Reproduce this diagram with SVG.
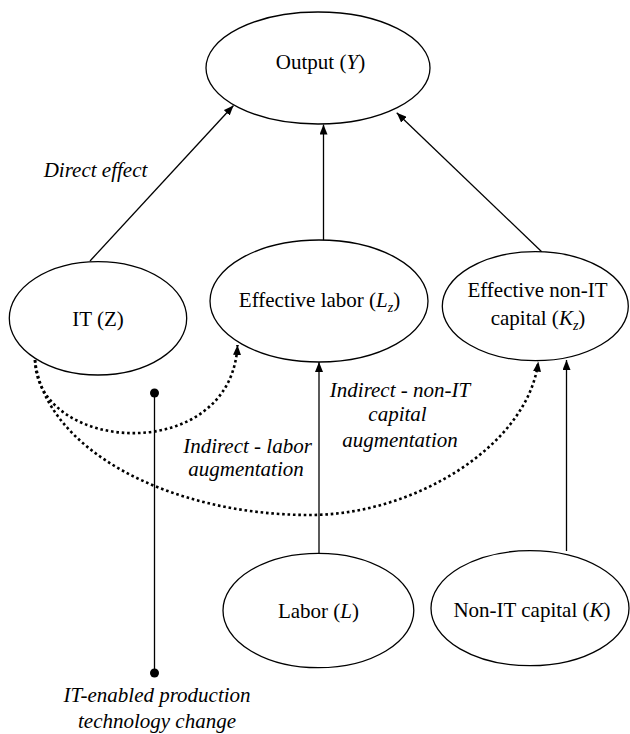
<svg xmlns="http://www.w3.org/2000/svg" width="630" height="734" viewBox="0 0 630 734">
<style>
  .node { fill: #fff; stroke: #000; stroke-width: 1.3; }
  .t { font-family: 'Liberation Serif', 'Times New Roman', serif; font-size: 21px; fill: #000; text-anchor: middle; }
  .it { font-style: italic; }
  .sub { font-style: italic; font-size: 14px; }
  .edge { fill: none; stroke: #000; stroke-width: 1.3; }
  .dot { fill: none; stroke: #000; stroke-width: 2.6; stroke-dasharray: 2.6 2.8; }
</style>
<defs>
  <marker id="arr" markerUnits="userSpaceOnUse" markerWidth="10" markerHeight="8" refX="10" refY="4" orient="auto" viewBox="0 0 10 8">
    <path d="M0,0 L10,4 L0,8 z" fill="#000"/>
  </marker>
</defs>
<rect width="630" height="734" fill="#fff"/>

<g id="connectors">
  <line class="edge" x1="90" y1="261" x2="233.5" y2="105.5" marker-end="url(#arr)"/>
  <line class="edge" x1="323.5" y1="241" x2="323.5" y2="124.5" marker-end="url(#arr)"/>
  <line class="edge" x1="541.7" y1="251.7" x2="396.7" y2="112.7" marker-end="url(#arr)"/>
  <line class="edge" x1="319" y1="553" x2="319" y2="362" marker-end="url(#arr)"/>
  <line class="edge" x1="566.5" y1="551" x2="566.5" y2="360" marker-end="url(#arr)"/>
  <path class="dot" d="M35,360 C37,455 232,465 237.5,345" marker-end="url(#arr)"/>
  <path class="dot" d="M35,360 C45,450 170,515 310,515 C415,515 528,445 538.3,361.5" marker-end="url(#arr)"/>
  <line class="edge" x1="154.5" y1="393" x2="154.5" y2="673"/>
  <circle cx="154.5" cy="393" r="4.5" fill="#000"/>
  <circle cx="154.5" cy="673" r="4.5" fill="#000"/>
</g>

<g id="output">
  <ellipse class="node" cx="318" cy="68" rx="112" ry="56"/>
  <text class="t" x="320.5" y="69">Output (<tspan class="it">Y</tspan>)</text>
</g>
<g id="it">
  <ellipse class="node" cx="98" cy="318.3" rx="88.7" ry="56.7"/>
  <text class="t" x="98" y="326">IT (Z)</text>
</g>
<g id="effective-labor">
  <ellipse class="node" cx="319" cy="301" rx="109" ry="61"/>
  <text class="t" x="319.5" y="307">Effective labor (<tspan class="it">L</tspan><tspan class="sub" dy="5">z</tspan><tspan dy="-5">)</tspan></text>
</g>
<g id="effective-capital">
  <ellipse class="node" cx="535.3" cy="306.2" rx="93" ry="54.5"/>
  <text class="t" x="537.5" y="297">Effective non-IT</text>
  <text class="t" x="538" y="325">capital (<tspan class="it">K</tspan><tspan class="sub" dy="5">z</tspan><tspan dy="-5">)</tspan></text>
</g>
<g id="labor">
  <ellipse class="node" cx="318.4" cy="610.5" rx="95.4" ry="57.2"/>
  <text class="t" x="318.5" y="618">Labor (<tspan class="it">L</tspan>)</text>
</g>
<g id="capital">
  <ellipse class="node" cx="530" cy="608.2" rx="99" ry="57.5"/>
  <text class="t" x="532" y="617">Non-IT capital (<tspan class="it">K</tspan>)</text>
</g>

<g id="labels">
  <text class="t it" x="95.5" y="177">Direct effect</text>
  <text class="t it" x="247.5" y="453">Indirect - labor</text>
  <text class="t it" x="246" y="476">augmentation</text>
  <text class="t it" x="400" y="397">Indirect - non-IT</text>
  <text class="t it" x="397.5" y="421">capital</text>
  <text class="t it" x="400" y="447">augmentation</text>
  <text class="t it" x="157" y="702">IT-enabled production</text>
  <text class="t it" x="157" y="728">technology change</text>
</g>
</svg>
